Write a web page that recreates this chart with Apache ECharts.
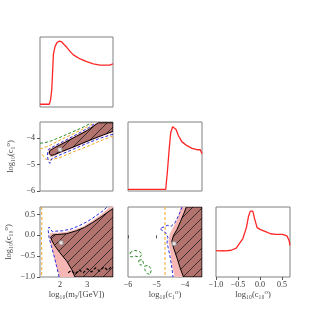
<!DOCTYPE html>
<html><head><meta charset="utf-8">
<script src="https://cdn.jsdelivr.net/npm/echarts@6/dist/echarts.min.js"></script>
<style>html,body{margin:0;padding:0;background:#fff}#c{width:323px;height:312px}</style>
</head><body><div id="c"></div>
<script>
// ---- axis ranges & ticks ----
const mchiRange = [1.27, 3.94];
const c1Range = [-6, -3.4];
const c10Range = [-1.0, 0.68];
const mchiTicks = [2, 3];
const c1Ticks = [-6, -5, -4];
const c10Ticks = [-1.0, -0.5, 0.0, 0.5];
const nameMchi = 'log₁₀(mᵪ/[GeV])';
const nameC1 = 'log₁₀(c₁⁰)';
const nameC10 = 'log₁₀(c₁₀⁰)';

// ---- 1D posteriors ----
const postMchi = [[1.27,0.04],[1.45,0.04],[1.61,0.04],[1.655,0.10],[1.70,0.25],[1.73,0.5],[1.76,0.77],[1.82,0.88],[1.89,0.94],[1.98,0.96],[2.06,0.95],[2.15,0.91],[2.25,0.87],[2.37,0.81],[2.49,0.76],[2.74,0.70],[2.98,0.66],[3.22,0.63],[3.47,0.61],[3.69,0.61],[3.83,0.61],[3.94,0.63]];
const postC1 = [[-6,0.025],[-5.2,0.025],[-4.674,0.025],[-4.617,0.28],[-4.557,0.6],[-4.50,0.86],[-4.43,0.95],[-4.38,0.96],[-4.31,0.91],[-4.23,0.82],[-4.11,0.73],[-3.93,0.67],[-3.75,0.63],[-3.57,0.61],[-3.46,0.61],[-3.40,0.55]];
const postC10 = [[-1.0,0.385],[-0.924,0.38],[-0.85,0.385],[-0.77,0.38],[-0.655,0.39],[-0.54,0.42],[-0.465,0.49],[-0.39,0.56],[-0.31,0.72],[-0.26,0.89],[-0.22,0.96],[-0.165,0.96],[-0.12,0.84],[-0.067,0.72],[0.01,0.69],[0.126,0.66],[0.24,0.63],[0.356,0.62],[0.51,0.62],[0.61,0.60],[0.66,0.53],[0.68,0.46]];

// ---- 2D: c1 vs mchi ----
const mc1Pink = [[1.58,-4.43],[1.8,-4.32],[2.2,-4.11],[2.6,-3.89],[3.0,-3.67],[3.34,-3.43],[3.94,-3.43],[3.94,-3.80],[3.6,-3.92],[3.2,-4.08],[2.8,-4.25],[2.4,-4.42],[2.0,-4.58],[1.8,-4.68],[1.66,-4.72],[1.57,-4.60]];
const mc1Dark = [[1.63,-4.48],[1.8,-4.37],[2.2,-4.16],[2.6,-3.94],[3.0,-3.72],[3.4,-3.43],[3.94,-3.43],[3.94,-3.75],[3.6,-3.88],[3.2,-4.04],[2.8,-4.21],[2.4,-4.38],[2.0,-4.54],[1.8,-4.63],[1.67,-4.66],[1.61,-4.58],[1.63,-4.48]];
const mc1Blue = [[3.94,-3.86],[3.5,-4.00],[3.0,-4.20],[2.5,-4.42],[2.0,-4.64],[1.8,-4.73],[1.7,-4.78],[1.63,-4.96],[1.57,-4.86],[1.54,-4.65],[1.57,-4.44],[1.75,-4.33],[2.2,-4.09],[2.6,-3.87],[3.0,-3.65],[3.31,-3.43]];
const mc1Orange = [[3.94,-3.93],[3.5,-4.10],[3.0,-4.32],[2.5,-4.52],[2.0,-4.74],[1.6,-4.84],[1.45,-4.78],[1.35,-4.62]];
const mc1Orange2 = [[1.27,-4.42],[1.6,-4.30],[2.0,-4.08],[2.5,-3.84],[3.0,-3.58],[3.25,-3.43]];
const mc1Green = [[1.27,-4.20],[1.45,-4.18],[1.65,-4.12],[2.0,-3.98],[2.4,-3.80],[2.8,-3.62],[3.15,-3.43]];
const mc1Best = [[2.0,-4.44]];

// ---- 2D: c10 vs mchi ----
const mc10Pink = [[1.64,0.05],[1.72,0.06],[1.9,0.06],[2.2,0.08],[2.5,0.13],[2.86,0.22],[3.2,0.36],[3.5,0.50],[3.8,0.66],[3.85,0.68],[3.94,0.68],[3.94,-1.0],[1.99,-1.0],[1.88,-0.78],[1.76,-0.46],[1.66,-0.22],[1.61,-0.02]];
const mc10Dark = [[1.66,-0.04],[1.75,0.01],[1.9,0.02],[2.25,0.04],[2.6,0.11],[2.9,0.19],[3.2,0.31],[3.5,0.44],[3.8,0.58],[3.94,0.64],[3.94,-1.0],[2.55,-1.0],[2.43,-0.82],[2.25,-0.62],[2.0,-0.42],[1.8,-0.24],[1.7,-0.12],[1.66,-0.04]];
const mc10Blue = [[1.97,-1.0],[1.88,-0.75],[1.78,-0.48],[1.68,-0.25],[1.60,-0.05],[1.57,0.12],[1.60,0.20],[1.66,0.17],[1.72,0.09],[1.85,0.10],[2.1,0.11],[2.4,0.15],[2.7,0.23],[3.0,0.33],[3.3,0.46],[3.6,0.60],[3.72,0.68]];
const mc10Orange = [[1.33,0.68],[1.34,0.3],[1.32,-0.1],[1.34,-0.5],[1.33,-1.0]];
const mc10Noise = [[2.30,-0.90],[2.42,-0.84],[2.55,-0.93],[2.7,-0.83],[2.85,-0.90],[3.0,-0.80],[3.15,-0.88],[3.3,-0.78],[3.45,-0.86],[3.6,-0.76],[3.75,-0.84],[3.9,-0.74]];
const mc10Best = [[2.04,-0.18]];

// ---- 2D: c10 vs c1 ----
const c1c10Pink = [[-4.15,0.68],[-3.4,0.68],[-3.4,-1.0],[-4.36,-1.0],[-4.46,-0.70],[-4.52,-0.38],[-4.58,-0.14],[-4.53,0.04],[-4.42,0.18],[-4.30,0.34],[-4.20,0.52]];
const c1c10Dark = [[-3.95,0.68],[-3.4,0.68],[-3.4,-1.0],[-4.05,-1.0],[-4.17,-0.78],[-4.28,-0.54],[-4.40,-0.30],[-4.46,-0.14],[-4.40,0.0],[-4.28,0.14],[-4.15,0.34],[-4.04,0.52],[-3.95,0.68]];
const c1c10Blue = [[-4.10,0.68],[-4.22,0.48],[-4.35,0.30],[-4.48,0.22],[-4.62,0.24],[-4.88,0.16],[-4.66,0.05],[-4.60,-0.05],[-4.63,-0.18],[-4.57,-0.35],[-4.50,-0.60],[-4.45,-0.82],[-4.42,-1.0]];
const c1c10Orange = [[-4.70,0.68],[-4.70,-1.0]];
const c1c10Green1 = [[-5.93,-0.42],[-5.8,-0.36],[-5.62,-0.38],[-5.50,-0.45],[-5.58,-0.52],[-5.75,-0.50],[-5.9,-0.52],[-5.93,-0.42]];
const c1c10Green2 = [[-5.62,-0.60],[-5.50,-0.58],[-5.45,-0.68],[-5.55,-0.72],[-5.62,-0.66],[-5.62,-0.60]];
const c1c10Green3 = [[-5.42,-0.74],[-5.28,-0.72],[-5.18,-0.82],[-5.22,-0.94],[-5.32,-0.92],[-5.40,-0.84],[-5.42,-0.74]];
const c1c10Best = [[-4.38,-0.20]];

// ---- styles ----
const PINK = '#f5b6b4', DARK = '#b2736e', RED = '#ff2626', BLUE = '#2b2bdd', ORANGE = '#f5a623', GREEN = '#2e8b2e';
const pc = document.createElement('canvas'); pc.width = 10; pc.height = 10;
const g = pc.getContext('2d');
g.fillStyle = DARK; g.fillRect(0,0,10,10);
g.strokeStyle = '#1a1a1a'; g.lineWidth = 0.8;
g.beginPath(); g.moveTo(-1,11); g.lineTo(11,-1); g.moveTo(-2,2); g.lineTo(2,-2); g.moveTo(8,12); g.lineTo(12,8); g.stroke();
const hatch = {image: pc, repeat: 'repeat'};

const FONT = 'Liberation Serif, DejaVu Serif, serif';
function fmt(dec){ return v => (v < 0 ? '−' : '') + Math.abs(v).toFixed(dec); }

function xAx(gi, range, ticks, dec, name){
  const a = {type:'value', gridIndex:gi, min:range[0], max:range[1], splitLine:{show:false}, axisLine:{show:false}};
  if (ticks) {
    a.axisTick = {show:true, customValues:ticks, length:3, lineStyle:{color:'#555'}};
    a.axisLabel = {show:true, customValues:ticks, formatter:fmt(dec), fontFamily:FONT, fontSize:8, color:'#333', margin:4};
    a.name = name; a.nameLocation='middle'; a.nameGap=13;
    a.nameTextStyle = {fontFamily:FONT, fontSize:8.5, color:'#444'};
  } else { a.axisTick={show:false}; a.axisLabel={show:false}; }
  return a;
}
function yAx(gi, range, ticks, dec, name, gap){
  const a = {type:'value', gridIndex:gi, min:range[0], max:range[1], splitLine:{show:false}, axisLine:{show:false}};
  if (ticks) {
    a.axisTick = {show:true, customValues:ticks, length:3, lineStyle:{color:'#555'}};
    a.axisLabel = {show:true, customValues:ticks, formatter:fmt(dec), fontFamily:FONT, fontSize:8, color:'#333', margin:5};
    a.name = name; a.nameLocation='middle'; a.nameGap=gap;
    a.nameTextStyle = {fontFamily:FONT, fontSize:8.5, color:'#444'};
  } else { a.axisTick={show:false}; a.axisLabel={show:false}; }
  return a;
}
function poly(i, pts, style){
  return {type:'custom', xAxisIndex:i, yAxisIndex:i, data:[pts[0]], silent:true, clip:true,
    renderItem:(p, api) => ({type:'polygon', shape:{points: pts.map(q => api.coord(q))}, style: style})};
}
function line(i, pts, color, dashed, width){
  return {type:'line', xAxisIndex:i, yAxisIndex:i, data:pts, showSymbol:false, symbol:'none', silent:true, clip:true,
    lineStyle:{color:color, width:width||1, type: dashed ? [3,2] : 'solid'}};
}
function best(i, pts){
  return {type:'scatter', xAxisIndex:i, yAxisIndex:i, data:pts, symbol:'rect', symbolSize:4, silent:true,
    itemStyle:{color:'#fff', borderColor:'#888', borderWidth:1}};
}

const grids = [
  {left:40, top:37, width:73, height:70},
  {left:40, top:122, width:73, height:69},
  {left:128, top:122, width:74, height:69},
  {left:40, top:207, width:73, height:70},
  {left:128, top:207, width:74, height:70},
  {left:216, top:207, width:74, height:70}
].map(gr => Object.assign({show:true, borderColor:'#808080', borderWidth:1, backgroundColor:'transparent', containLabel:false}, gr));

const pdfRange = [0, 1.02];
const option = {
  animation:false,
  grid: grids,
  xAxis: [
    xAx(0, mchiRange), xAx(1, mchiRange), xAx(2, c1Range),
    xAx(3, mchiRange, mchiTicks, 0, nameMchi), xAx(4, c1Range, c1Ticks, 0, nameC1), xAx(5, c10Range, c10Ticks, 1, nameC10)
  ],
  yAxis: [
    yAx(0, pdfRange), yAx(1, c1Range, c1Ticks, 0, nameC1, 25), yAx(2, pdfRange),
    yAx(3, c10Range, c10Ticks, 1, nameC10, 27), yAx(4, c10Range), yAx(5, pdfRange)
  ],
  series: [
    line(0, postMchi, RED, false, 1.3),
    line(2, postC1, RED, false, 1.3),
    line(5, postC10, RED, false, 1.3),
    // c1 vs mchi
    poly(1, mc1Pink, {fill:PINK}),
    poly(1, mc1Dark, {fill:hatch, stroke:'#000', lineWidth:1}),
    line(1, mc1Green, GREEN, true, 1),
    line(1, mc1Orange, ORANGE, true, 1),
    line(1, mc1Orange2, ORANGE, true, 1),
    line(1, mc1Blue, BLUE, true, 1),
    best(1, mc1Best),
    // c10 vs mchi
    poly(3, mc10Pink, {fill:PINK}),
    poly(3, mc10Dark, {fill:hatch, stroke:'#000', lineWidth:1}),
    line(3, mc10Noise, '#000', true, 1.2),
    line(3, mc10Orange, ORANGE, true, 1),
    line(3, mc10Blue, BLUE, true, 1),
    best(3, mc10Best),
    // c10 vs c1
    poly(4, c1c10Pink, {fill:PINK}),
    poly(4, c1c10Dark, {fill:hatch, stroke:'#000', lineWidth:1}),
    line(4, c1c10Orange, ORANGE, true, 1),
    line(4, c1c10Blue, BLUE, true, 1),
    line(4, c1c10Green1, GREEN, true, 1),
    line(4, c1c10Green2, GREEN, true, 1),
    line(4, c1c10Green3, GREEN, true, 1),
    best(4, c1c10Best)
  ]
};
const chart = echarts.init(document.getElementById('c'), null, {renderer:'canvas'});
chart.setOption(option);
</script></body></html>
